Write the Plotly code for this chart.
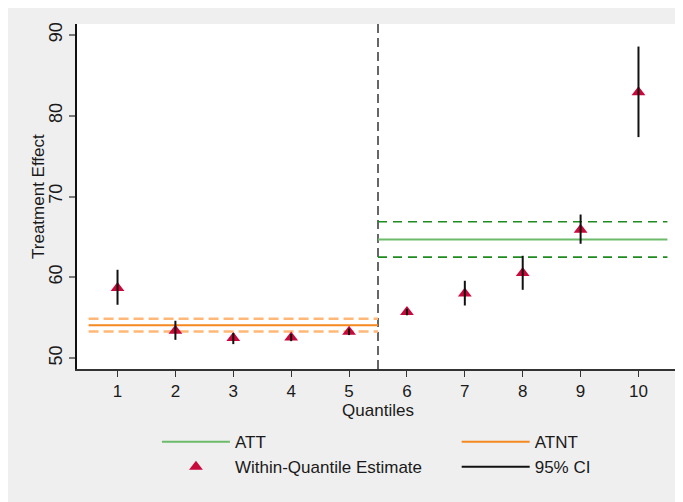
import plotly.graph_objects as go

# ---- data ----
quantiles = [1, 2, 3, 4, 5, 6, 7, 8, 9, 10]
estimates = [58.66, 53.38, 52.48, 52.56, 53.25, 55.69, 58.0, 60.52, 65.88, 82.91]
ci_low = [56.6, 52.26, 51.73, 52.1, 52.85, 55.3, 56.51, 58.45, 64.15, 77.35]
ci_high = [60.93, 54.62, 53.1, 53.0, 53.65, 56.1, 59.57, 62.66, 67.77, 88.56]

cutoff = 5.5
atnt_x = [0.5, 5.5]
atnt = 54.08
atnt_low = 53.29
atnt_high = 54.86
att_x = [5.5, 10.5]
att = 64.68
att_low = 62.5
att_high = 66.87

x_ticks = [1, 2, 3, 4, 5, 6, 7, 8, 9, 10]
y_ticks = [50, 60, 70, 80, 90]
x_title = "Quantiles"
y_title = "Treatment Effect"

FONT = "Liberation Sans, Arial, Helvetica, sans-serif"
TXT = "#1a1a1a"
BG = "#efefef"

fig = go.Figure()

# ATNT lines
fig.add_trace(go.Scatter(x=atnt_x, y=[atnt_high] * 2, mode="lines",
                         line=dict(color="#ffb877", width=2.5, dash="10px,5px"),
                         showlegend=False, hoverinfo="skip"))
fig.add_trace(go.Scatter(x=atnt_x, y=[atnt_low] * 2, mode="lines",
                         line=dict(color="#ffb877", width=2.5, dash="10px,5px"),
                         showlegend=False, hoverinfo="skip"))
fig.add_trace(go.Scatter(x=atnt_x, y=[atnt] * 2, mode="lines", name="ATNT",
                         line=dict(color="#f5891f", width=2), legend="legend2"))

# ATT lines
fig.add_trace(go.Scatter(x=att_x, y=[att_high] * 2, mode="lines",
                         line=dict(color="#1f8a1f", width=1.6, dash="9px,6px"),
                         showlegend=False, hoverinfo="skip"))
fig.add_trace(go.Scatter(x=att_x, y=[att_low] * 2, mode="lines",
                         line=dict(color="#1f8a1f", width=1.6, dash="9px,6px"),
                         showlegend=False, hoverinfo="skip"))
fig.add_trace(go.Scatter(x=att_x, y=[att] * 2, mode="lines", name="ATT",
                         line=dict(color="#6dbb6a", width=2), legend="legend"))

# point estimates
fig.add_trace(go.Scatter(x=quantiles, y=estimates, mode="markers",
                         name="Within-Quantile Estimate",
                         marker=dict(symbol="triangle-up", size=12, color="#c8093b",
                                     line=dict(width=0)),
                         legend="legend"))

# confidence intervals (drawn on top of markers)
ci_x, ci_y = [], []
for q, lo, hi in zip(quantiles, ci_low, ci_high):
    ci_x += [q, q, None]
    ci_y += [lo, hi, None]
fig.add_trace(go.Scatter(x=ci_x, y=ci_y, mode="lines", name="95% CI",
                         line=dict(color="#111111", width=2), legend="legend2"))

# cutoff line
shapes = [
    dict(type="line", xref="x", yref="paper", x0=cutoff, x1=cutoff, y0=0, y1=1,
         line=dict(color="#666666", width=2, dash="9px,5px"), layer="below"),
]

annotations = [
    dict(text=y_title, xref="paper", yref="paper", x=-0.064, y=0.5,
         xanchor="center", yanchor="middle", showarrow=False, textangle=-90,
         font=dict(family=FONT, size=17, color=TXT)),
]

legend_common = dict(orientation="v", xanchor="left", yanchor="top",
                     bgcolor="rgba(0,0,0,0)", borderwidth=0, itemwidth=68,
                     font=dict(family=FONT, size=17, color=TXT),
                     itemclick=False, itemdoubleclick=False)

fig.update_layout(
    width=675, height=494,
    margin=dict(l=69, r=4, t=16, b=133, autoexpand=False),
    paper_bgcolor=BG,
    plot_bgcolor="white",
    shapes=shapes,
    annotations=annotations,
    font=dict(family=FONT, size=17, color=TXT),
    legend=dict(x=0.1328, y=-0.1597, **legend_common),
    legend2=dict(x=0.6307, y=-0.1597, **legend_common),
    xaxis=dict(range=[0.3, 10.7], tickmode="array", tickvals=x_ticks,
               ticktext=[str(t) for t in x_ticks],
               showgrid=False, zeroline=False, automargin=False,
               showline=True, linecolor="#333333", linewidth=1.5,
               ticks="outside", ticklen=6, tickwidth=1.2, tickcolor="#333333",
               tickfont=dict(family=FONT, size=17, color=TXT),
               title=dict(text=x_title, font=dict(family=FONT, size=17, color=TXT),
                          standoff=0)),
    yaxis=dict(range=[48.65, 91.35], tickmode="array", tickvals=y_ticks,
               ticktext=[str(t) for t in y_ticks],
               showgrid=False, zeroline=False, automargin=False,
               showline=True, linecolor="#111111", linewidth=1.5,
               ticks="outside", ticklen=6, tickwidth=1.5, tickcolor="#777777",
               tickangle=-90,
               tickfont=dict(family=FONT, size=18, color=TXT)),
)

fig.write_html("out.html")
